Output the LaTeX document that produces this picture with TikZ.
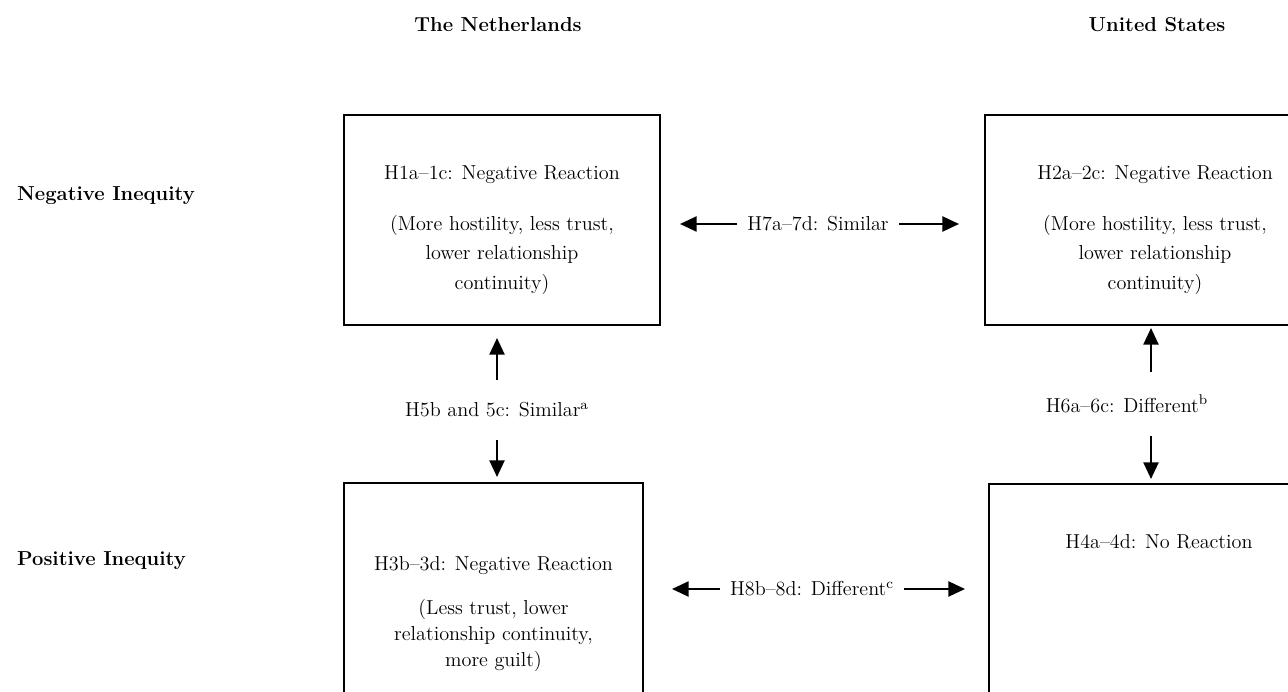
\documentclass[tikz,border=0pt]{standalone}
\usetikzlibrary{arrows.meta,positioning}
\begin{document}
\begin{tikzpicture}[x=0.02cm,y=-0.02cm,
    box/.style={draw,line width=1.2pt,minimum height=4.2cm},
    txt/.style={align=center,inner sep=0pt,font=\fontsize{11.5}{17}\selectfont},
    lbl/.style={inner xsep=0.2cm,inner ysep=0.45cm,font=\fontsize{11.5}{14}\selectfont},
    head/.style={font=\fontsize{11.5}{13}\selectfont\bfseries},
    arr/.style={line width=1.1pt,-{Triangle[length=0.33cm,width=0.3cm]}}]
            \useasboundingbox (0,0) rectangle (1288,692);
            \clip (0,0) rectangle (1288,692);
            \node[head] (nl) at (498,25) {The Netherlands};
            \node[head] (us) at (1157,25) {United States};
            \node[head,anchor=west] (neg) at (11,196) {Negative Inequity};
            \node[head,anchor=west] (pos) at (11,561) {Positive Inequity};
            \node[box,minimum width=6.32cm] (nlneg) at (502,220) {};
            \node[box,minimum width=6.8cm] (usneg) at (1155,220) {};
            \node[box,minimum width=5.98cm,minimum height=5.2cm] (nlpos) at (493.5,613) {};
            \node[box,minimum width=6.8cm,minimum height=5.2cm] (uspos) at (1159,614) {};
            \node[txt,below=1.02cm of nlneg.north] (nlnegtxt) {H1a--1c: Negative Reaction\\[12pt]
                (More hostility, less trust,\\lower relationship\\continuity)};
            \node[txt,below=1.02cm of usneg.north] (usnegtxt) {H2a--2c: Negative Reaction\\[12pt]
                (More hostility, less trust,\\lower relationship\\continuity)};
            \node[txt,font=\fontsize{11.5}{15}\selectfont,below=1.48cm of nlpos.north] (nlpostxt) {H3b--3d: Negative Reaction\\[10pt]
                (Less trust, lower\\relationship continuity,\\more guilt)};
            \node[txt,below=1.02cm of uspos.north] (uspostxt) {H4a--4d: No Reaction};
            \node[lbl] (h7) at (818,224) {H7a--7d: Similar};
            \draw[arr] (h7.west) -- ([xshift=0.38cm]h7.west -| nlneg.east);
            \draw[arr] (h7.east) -- ([xshift=-0.5cm]h7.east -| usneg.west);
            \node[lbl] (h8) at (812,589) {H8b--8d: Different\textsuperscript{c}};
            \draw[arr] (h8.west) -- ([xshift=0.56cm]h8.west -| nlpos.east);
            \draw[arr] (h8.east) -- ([xshift=-0.46cm]h8.east -| uspos.west);
            \node[lbl] (h5) at (497,410) {H5b and 5c: Similar\textsuperscript{a}};
            \draw[arr] (h5.north) -- ([yshift=-0.24cm]h5.north |- nlneg.south);
            \draw[arr] (h5.south) -- ([yshift=0.1cm]h5.south |- nlpos.north);
            \node[lbl] (h6) at (1127,404) {H6a--6c: Different\textsuperscript{b}};
            \draw[arr] ([xshift=0.48cm]h6.north) -- ([xshift=0.48cm,yshift=-0.04cm]h6.north |- usneg.south);
            \draw[arr] ([xshift=0.48cm]h6.south) -- ([xshift=0.48cm,yshift=0.08cm]h6.south |- uspos.north);
        \end{tikzpicture}
\end{document}
